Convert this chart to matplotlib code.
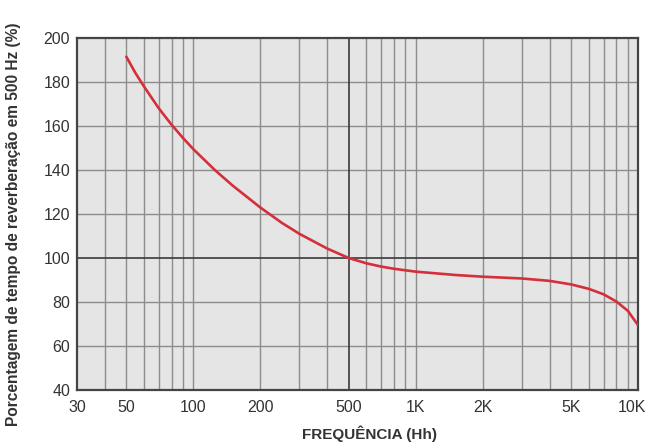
import matplotlib
matplotlib.use("Agg")
import matplotlib.pyplot as plt
from matplotlib.ticker import FixedLocator, NullLocator
from matplotlib.transforms import ScaledTranslation

plt.rcParams['font.family'] = ['Liberation Sans', 'DejaVu Sans']

# Data
freq = [50, 55, 60, 70, 80, 90, 100, 125, 150, 200, 250, 300, 400, 500,
        600, 700, 800, 1000, 1500, 2000, 3000, 4000, 5000, 6000, 7000,
        8000, 9000, 10000]
pct = [191.5, 184.0, 178.0, 168.0, 160.5, 154.5, 149.5, 140.0, 133.0, 123.0,
       116.0, 111.0, 104.3, 100.0, 97.6, 96.1, 95.1, 93.8, 92.3, 91.5, 90.7,
       89.6, 88.0, 86.0, 83.5, 80.2, 76.0, 69.5]

xticks = [30, 50, 100, 200, 500, 1000, 2000, 5000, 10000]
xticklabels = ['30', '50', '100', '200', '500', '1K', '2K', '5K', '10K']
xgrid = [40, 50, 60, 70, 80, 90, 100, 200, 300, 400, 600, 700, 800, 900,
         1000, 2000, 3000, 4000, 5000, 6000, 7000, 8000, 9000]
yticks = [40, 60, 80, 100, 120, 140, 160, 180, 200]

fig = plt.figure(figsize=(6.49, 4.43), dpi=100)
ax = fig.add_axes([77/649, 53/443, 561/649, 352/443])
ax.set_facecolor('#e5e5e5')
ax.set_xscale('log')
ax.set_xlim(30, 10000)
ax.set_ylim(40, 200)

for g in xgrid:
    ax.axvline(g, color='#8c8c8c', lw=1.0, zorder=1)
for g in yticks[1:-1]:
    if g != 100:
        ax.axhline(g, color='#8c8c8c', lw=1.0, zorder=1)
ax.axvline(500, color='#3a3a3a', lw=1.2, zorder=1)
ax.axhline(100, color='#3a3a3a', lw=1.2, zorder=1)

ax.plot(freq, pct, color='#d42f3a', lw=1.9, zorder=3, solid_capstyle='round')

ax.xaxis.set_major_locator(FixedLocator(xticks))
ax.xaxis.set_minor_locator(NullLocator())
ax.set_xticklabels(xticklabels)
ax.set_yticks(yticks)
ax.tick_params(axis='both', length=0, labelsize=11.5, colors='#333333')
ax.tick_params(axis='x', pad=7)
ax.tick_params(axis='y', pad=5)

# nudge the last x tick label inward, as in the reference
last = ax.get_xticklabels()[-1]
last.set_transform(last.get_transform() + ScaledTranslation(-6/100, 0, fig.dpi_scale_trans))

for s in ax.spines.values():
    s.set_color('#444444')
    s.set_linewidth(1.6)

fig.text(14/649, 1 - 224/443, 'Porcentagem de tempo de reverberação em 500 Hz (%)',
         rotation=90, ha='center', va='center',
         fontsize=11.2, fontweight='bold', color='#333333')
fig.text(370/649, 1 - 434/443, 'FREQUÊNCIA (Hh)', ha='center', va='center',
         fontsize=11, fontweight='bold', color='#333333')

fig.savefig('out.png', dpi=100)
